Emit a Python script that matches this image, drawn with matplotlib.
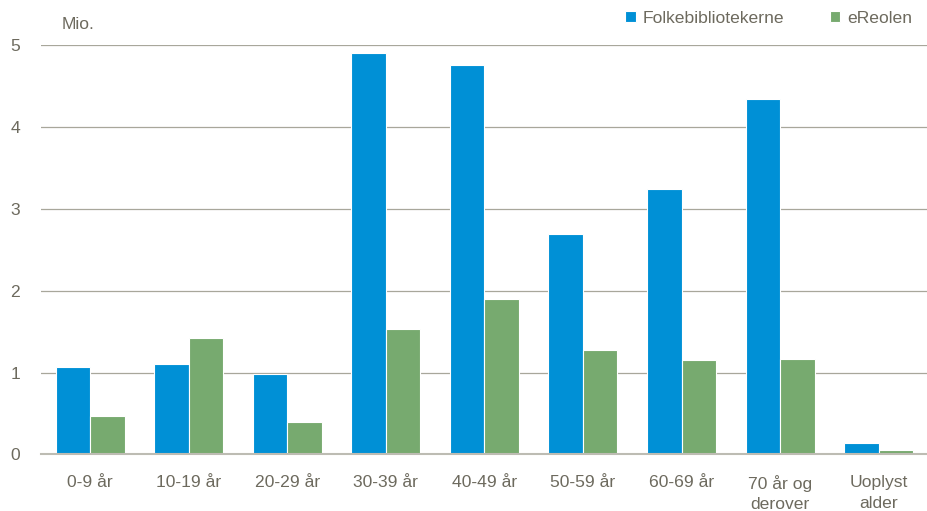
import matplotlib.pyplot as plt
import numpy as np

plt.rcParams['font.family'] = ['Liberation Sans', 'DejaVu Sans']

categories = ['0-9 år', '10-19 år', '20-29 år', '30-39 år', '40-49 år',
              '50-59 år', '60-69 år', '70 år og\nderover', 'Uoplyst\nalder']
folkebib = [1.07, 1.10, 0.98, 4.91, 4.76, 2.70, 3.24, 4.34, 0.14]
ereolen = [0.47, 1.42, 0.40, 1.53, 1.90, 1.28, 1.15, 1.16, 0.05]

text_col = '#6d6a5e'
grid_col = '#a8a79b'
fs = 12.6

fig = plt.figure(figsize=(9.28, 5.11), dpi=100)
ax = fig.add_axes([0.044, 0.111, 0.956, 0.80])

x = np.arange(len(categories))
w = 0.35
ax.bar(x - w / 2, folkebib, w, color='#0090d6', edgecolor='white', linewidth=0.8,
       label='Folkebibliotekerne', zorder=3)
ax.bar(x + w / 2, ereolen, w, color='#77aa6f', edgecolor='white', linewidth=0.8,
       label='eReolen', zorder=3)

ax.set_xlim(-0.5, len(categories) - 0.5)
ax.set_ylim(0, 5)
ax.set_yticks([0, 1, 2, 3, 4, 5])
ax.set_xticks(x)
ax.set_xticklabels(categories, fontsize=fs, color=text_col, linespacing=1.45)
ax.tick_params(axis='y', labelsize=fs, labelcolor=text_col, length=0, pad=15)
ax.tick_params(axis='x', length=0, pad=15)
ax.grid(axis='y', color=grid_col, linewidth=0.9, zorder=0)
for s in ['top', 'right', 'left']:
    ax.spines[s].set_visible(False)
ax.spines['bottom'].set_color('#bdbcb3')
ax.spines['bottom'].set_linewidth(1.5)
ax.spines['bottom'].set_zorder(4)

fig.text(0.066, 0.952, 'Mio.', fontsize=fs, color=text_col, va='center')
fig.legend(loc='upper right', bbox_to_anchor=(1.0, 1.01), ncol=2, frameon=False,
           fontsize=fs, labelcolor=text_col, handlelength=0.6, handleheight=0.6,
           handletextpad=0.4, columnspacing=2.6)

fig.savefig('out.png', dpi=100)
